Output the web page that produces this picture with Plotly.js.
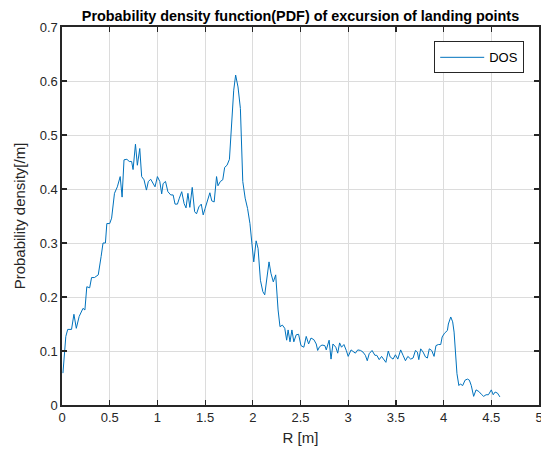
<!DOCTYPE html>
<html>
<head>
<meta charset="utf-8">
<script src="https://cdn.plot.ly/plotly-3.0.1.min.js"></script>
<style>html,body{margin:0;padding:0;background:#fff;}#chart{width:541px;height:457px;}</style>
</head>
<body>
<div id="chart"></div>
<script>
const seriesName = "DOS";
const R = [0.01,0.04,0.06,0.10,0.125,0.15,0.18,0.22,0.24,0.26,0.29,0.31,0.34,0.38,0.41,0.43,0.455,0.47,0.50,0.52,0.55,0.58,0.61,0.63,0.65,0.68,0.705,0.73,0.745,0.77,0.79,0.815,0.835,0.86,0.885,0.905,0.93,0.955,0.975,1.0,1.025,1.045,1.06,1.085,1.11,1.14,1.165,1.185,1.21,1.23,1.255,1.28,1.30,1.32,1.34,1.365,1.39,1.41,1.435,1.46,1.48,1.50,1.527,1.55,1.57,1.595,1.62,1.635,1.66,1.685,1.705,1.73,1.755,1.78,1.80,1.82,1.845,1.87,1.885,1.895,1.92,1.945,1.97,1.995,2.01,2.035,2.055,2.08,2.105,2.125,2.15,2.17,2.19,2.215,2.24,2.265,2.285,2.31,2.335,2.355,2.37,2.39,2.41,2.43,2.455,2.48,2.505,2.535,2.56,2.585,2.61,2.64,2.665,2.68,2.70,2.725,2.755,2.77,2.80,2.82,2.84,2.87,2.89,2.91,2.93,2.955,2.98,3.00,3.03,3.05,3.075,3.10,3.13,3.155,3.18,3.20,3.22,3.25,3.28,3.30,3.325,3.35,3.37,3.395,3.42,3.44,3.47,3.495,3.52,3.55,3.575,3.60,3.625,3.655,3.68,3.705,3.725,3.74,3.76,3.785,3.81,3.83,3.85,3.875,3.90,3.92,3.945,3.97,3.985,4.01,4.04,4.05,4.075,4.095,4.11,4.125,4.14,4.16,4.175,4.20,4.225,4.25,4.27,4.29,4.315,4.34,4.37,4.395,4.42,4.445,4.47,4.50,4.52,4.54,4.565,4.59];
const density = [0.059,0.127,0.14,0.14,0.168,0.142,0.164,0.179,0.176,0.219,0.217,0.236,0.236,0.241,0.275,0.30,0.30,0.336,0.336,0.346,0.392,0.404,0.423,0.385,0.454,0.455,0.451,0.451,0.436,0.483,0.444,0.475,0.423,0.417,0.398,0.414,0.418,0.410,0.404,0.423,0.414,0.391,0.41,0.414,0.395,0.389,0.389,0.372,0.372,0.383,0.395,0.373,0.365,0.392,0.366,0.403,0.358,0.354,0.367,0.372,0.352,0.364,0.380,0.393,0.378,0.376,0.423,0.406,0.414,0.417,0.44,0.444,0.455,0.537,0.583,0.611,0.589,0.549,0.478,0.414,0.383,0.364,0.336,0.287,0.265,0.304,0.29,0.231,0.21,0.204,0.238,0.265,0.244,0.228,0.241,0.176,0.145,0.148,0.142,0.12,0.139,0.117,0.139,0.117,0.13,0.131,0.110,0.107,0.127,0.113,0.124,0.121,0.113,0.101,0.108,0.111,0.110,0.102,0.120,0.085,0.113,0.107,0.096,0.115,0.107,0.112,0.101,0.090,0.102,0.099,0.096,0.102,0.101,0.098,0.092,0.082,0.095,0.101,0.092,0.092,0.084,0.090,0.085,0.079,0.100,0.089,0.085,0.093,0.085,0.102,0.092,0.082,0.090,0.085,0.087,0.101,0.098,0.084,0.104,0.098,0.089,0.087,0.104,0.101,0.090,0.110,0.112,0.112,0.126,0.133,0.138,0.150,0.163,0.154,0.135,0.101,0.058,0.036,0.039,0.036,0.046,0.048,0.046,0.036,0.016,0.028,0.025,0.020,0.016,0.019,0.019,0.028,0.019,0.024,0.022,0.015];
const xTicks = [0,0.5,1,1.5,2,2.5,3,3.5,4,4.5,5];
const yTicks = [0,0.1,0.2,0.3,0.4,0.5,0.6,0.7];
const titleText = "Probability density function(PDF) of excursion of landing points";
const xTitle = "R [m]";
const yTitle = "Probability density[/m]";

const FONT = "Liberation Sans, Arial, Helvetica, sans-serif";
const axisCommon = {
  showline: true, linecolor: "#262626", linewidth: 1.6, mirror: "ticks",
  ticks: "inside", ticklen: 5, tickwidth: 1.2, tickcolor: "#262626",
  showgrid: true, gridcolor: "#dcdcdc", gridwidth: 1,
  zeroline: false, tickfont: {family: FONT, size: 13, color: "#262626"},
  ticklabeloverflow: "allow"
};
const layout = {
  width: 541, height: 457,
  margin: {l: 62, r: 2, t: 27, b: 52},
  paper_bgcolor: "#ffffff", plot_bgcolor: "#ffffff",
  font: {family: FONT, color: "#262626"},
  title: {text: "<b>" + titleText + "</b>", font: {family: FONT, size: 14.4, color: "#000"}, x: 0.5, xanchor: "center", y: 0.966, yanchor: "middle", xref: "paper"},
  xaxis: Object.assign({}, axisCommon, {range: [0, 5], tickvals: xTicks, ticktext: xTicks.map(String),
    title: {text: xTitle, font: {family: FONT, size: 15, color: "#262626"}, standoff: 8}}),
  yaxis: Object.assign({}, axisCommon, {range: [0, 0.7], tickvals: yTicks, ticktext: yTicks.map(String),
    title: {text: yTitle, font: {family: FONT, size: 15, color: "#262626"}, standoff: 10}}),
  showlegend: true,
  legend: {x: 0.969, y: 0.962, xanchor: "right", yanchor: "top", bgcolor: "#fff", bordercolor: "#262626", borderwidth: 1,
    font: {family: FONT, size: 13, color: "#000"}, tracegroupgap: 0, itemwidth: 44}
};
const trace = {x: R, y: density, type: "scatter", mode: "lines", name: seriesName,
  line: {color: "#0072BD", width: 1}};
Plotly.newPlot("chart", [trace], layout, {displayModeBar: false, staticPlot: true});
</script>
</body>
</html>
